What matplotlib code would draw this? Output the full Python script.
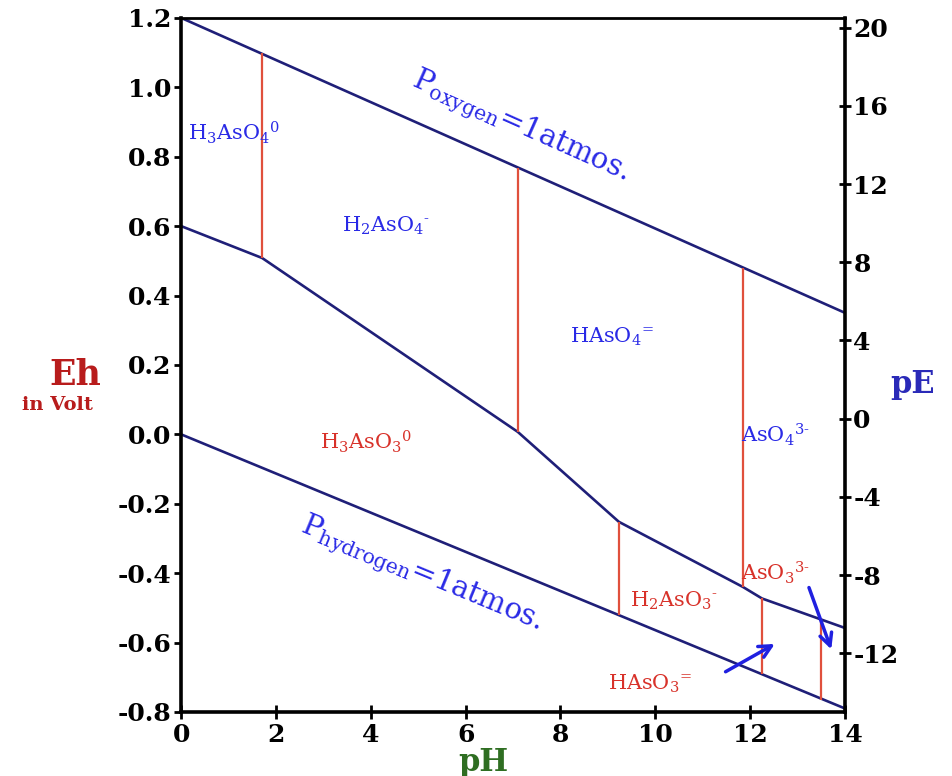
import numpy as np
import matplotlib
matplotlib.use("Agg")
import matplotlib.pyplot as plt

plt.rcParams['font.family'] = ['DejaVu Serif']
plt.rcParams['mathtext.fontset'] = 'dejavuserif'
plt.rcParams['axes.unicode_minus'] = False

# water stability limits (Eh in volt vs pH)
ph_oxygen = [0, 14]
eh_oxygen = [1.2, 0.35]
ph_hydrogen = [0, 14]
eh_hydrogen = [0.0, -0.79]

# arsenate / arsenite boundary
ph_redox = [0, 1.71, 7.1, 9.23, 11.85, 12.25, 14]
eh_redox = [0.6, 0.508, 0.007, -0.252, -0.44, -0.473, -0.558]

# species boundaries (vertical red lines)
ph_pk = [1.71, 7.1, 11.85, 9.23, 12.25, 13.5]
eh_pk_top = [1.098, 0.768, 0.478, -0.252, -0.473, -0.53]
eh_pk_bottom = [0.508, 0.007, -0.44, -0.52, -0.691, -0.765]

# species labels
arsenate_labels = [r'H$_3$AsO$_4$$^0$', r'H$_2$AsO$_4$$^{\text{-}}$',
                   r'HAsO$_4$$^{\text{=}}$', r'AsO$_4$$^{\text{3-}}$']
arsenate_pos = [(0.15, 0.87), (3.4, 0.60), (8.2, 0.28), (11.8, 0.0)]
arsenite_labels = [r'H$_3$AsO$_3$$^0$', r'H$_2$AsO$_3$$^{\text{-}}$',
                   r'AsO$_3$$^{\text{3-}}$', r'HAsO$_3$$^{\text{=}}$']
arsenite_pos = [(2.93, -0.02), (9.47, -0.48), (11.8, -0.40), (9.0, -0.72)]

eh_ticks = [-0.8, -0.6, -0.4, -0.2, 0.0, 0.2, 0.4, 0.6, 0.8, 1.0, 1.2]
pe_ticks = [-12, -8, -4, 0, 4, 8, 12, 16, 20]
ph_ticks = [0, 2, 4, 6, 8, 10, 12, 14]

navy = '#1f1f78'
red_line = '#e0503c'
blue_txt = '#2a2ae6'
red_txt = '#d8322a'

fig = plt.figure(figsize=(9.53, 7.76), dpi=100)
ax = fig.add_axes([0.19, 0.0825, 0.6967, 0.8945])
ax.set_xlim(0, 14)
ax.set_ylim(-0.8, 1.2)

ax.plot(ph_oxygen, eh_oxygen, color=navy, lw=1.9)
ax.plot(ph_hydrogen, eh_hydrogen, color=navy, lw=1.9)
ax.plot(ph_redox, eh_redox, color=navy, lw=1.9)
ax.vlines(ph_pk, eh_pk_bottom, eh_pk_top, color=red_line, lw=1.6)

for lab, (x, y) in zip(arsenate_labels, arsenate_pos):
    ax.text(x, y, lab, color=blue_txt, fontsize=15, ha='left', va='center')
for lab, (x, y) in zip(arsenite_labels, arsenite_pos):
    ax.text(x, y, lab, color=red_txt, fontsize=15, ha='left', va='center')


def screen_angle(xs, ys):
    p = ax.transData.transform(np.column_stack([xs, ys]))
    return np.degrees(np.arctan2(p[1, 1] - p[0, 1], p[1, 0] - p[0, 0]))


ax.text(7.15, 0.885, r'P$_{\rm oxygen}$=1atmos.', color=blue_txt, fontsize=21,
        rotation=screen_angle(ph_oxygen, eh_oxygen), rotation_mode='anchor',
        ha='center', va='center')
ax.text(5.06, -0.405, r'P$_{\rm hydrogen}$=1atmos.', color=blue_txt, fontsize=21,
        rotation=screen_angle(ph_hydrogen, eh_hydrogen), rotation_mode='anchor',
        ha='center', va='center')

arrow = dict(arrowstyle='->', color='#2020e0', lw=2.5, mutation_scale=22)
ax.annotate('', xy=(12.57, -0.60), xytext=(11.43, -0.688), arrowprops=arrow)
ax.annotate('', xy=(13.73, -0.627), xytext=(13.22, -0.434), arrowprops=arrow)

ax.set_xticks(ph_ticks)
ax.set_yticks(eh_ticks)
ax.set_yticklabels(['%.1f' % v for v in eh_ticks])
ax.tick_params(axis='y', direction='out', length=5, width=2, labelsize=18, pad=2)
ax.tick_params(axis='x', direction='inout', length=10, width=2, labelsize=18, pad=3)
for lab in ax.get_xticklabels() + ax.get_yticklabels():
    lab.set_fontweight('bold')

for side in ['left', 'bottom', 'right']:
    ax.spines[side].set_linewidth(2.6)
ax.spines['top'].set_linewidth(2.0)

ax2 = ax.twinx()
ax2.set_ylim(-15.0, 20.5)
ax2.set_yticks(pe_ticks)
ax2.set_yticklabels([str(v) for v in pe_ticks])
ax2.tick_params(axis='y', direction='inout', length=8, width=2, labelsize=18, pad=2)
for lab in ax2.get_yticklabels():
    lab.set_fontweight('bold')
for side in ax2.spines:
    ax2.spines[side].set_visible(False)

fig.text(0.079, 0.517, 'Eh', color='#b81c1c', fontsize=25, fontweight='bold',
         ha='center', va='center')
fig.text(0.060, 0.478, 'in Volt', color='#b81c1c', fontsize=14, fontweight='bold',
         ha='center', va='center')
fig.text(0.958, 0.504, 'pE', color='#2a2ab8', fontsize=22, fontweight='bold',
         ha='center', va='center')
fig.text(0.507, 0.018, 'pH', color='#2f6e22', fontsize=22, fontweight='bold',
         ha='center', va='center')

fig.savefig('out.png', dpi=100)
